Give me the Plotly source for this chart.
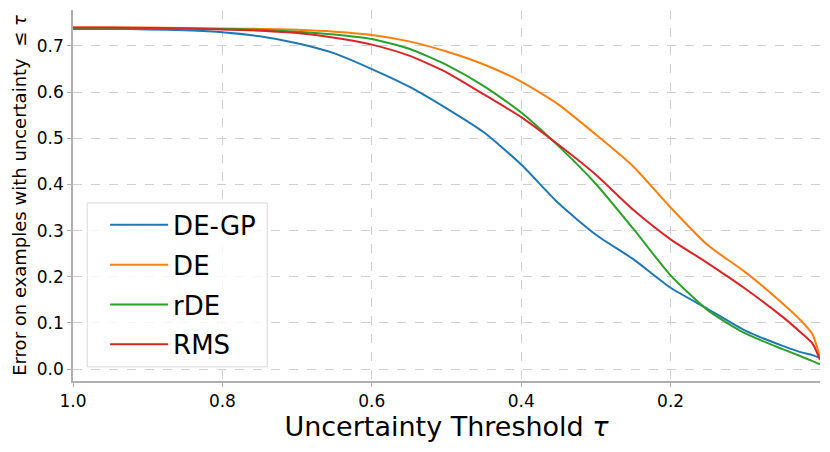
import plotly.graph_objects as go

tau = [1.00, 0.95, 0.90, 0.85, 0.80, 0.75, 0.70, 0.65, 0.60, 0.55, 0.50,
       0.45, 0.40, 0.35, 0.30, 0.25, 0.20, 0.15, 0.10, 0.05, 0.025, 0.01, 0.00]

de_gp = [0.737, 0.737, 0.736, 0.734, 0.730, 0.721, 0.706, 0.684, 0.650, 0.612, 0.565,
         0.513, 0.443, 0.359, 0.291, 0.238, 0.176, 0.130, 0.083, 0.050, 0.036, 0.030, 0.024]
de = [0.740, 0.740, 0.740, 0.739, 0.738, 0.737, 0.735, 0.731, 0.724, 0.710, 0.688,
      0.660, 0.623, 0.573, 0.508, 0.439, 0.350, 0.268, 0.210, 0.142, 0.104, 0.075, 0.026]
rde = [0.738, 0.738, 0.738, 0.738, 0.737, 0.735, 0.731, 0.725, 0.715, 0.694, 0.659,
       0.613, 0.556, 0.483, 0.401, 0.304, 0.203, 0.127, 0.077, 0.043, 0.027, 0.017, 0.010]
rms = [0.740, 0.740, 0.739, 0.738, 0.736, 0.733, 0.728, 0.718, 0.703, 0.679, 0.643,
       0.595, 0.546, 0.486, 0.421, 0.345, 0.281, 0.229, 0.174, 0.113, 0.078, 0.055, 0.020]

names = ["DE-GP", "DE", "rDE", "RMS"]
series = [de_gp, de, rde, rms]
colors = ["#1f77b4", "#ff7f0e", "#2ca02c", "#d62728"]

x_ticks = [1.0, 0.8, 0.6, 0.4, 0.2]
y_ticks = [0.0, 0.1, 0.2, 0.3, 0.4, 0.5, 0.6, 0.7]

fig = go.Figure()
for name, vals, col in zip(names, series, colors):
    fig.add_trace(go.Scatter(
        x=tau, y=vals, name=name, mode="lines", legendgroup=name,
        line=dict(color=col, width=2, shape="spline", smoothing=0.6),
    ))

# legend frame (matplotlib style box)
fig.add_shape(
    type="rect", xref="paper", yref="paper",
    x0=0.019, x1=0.26, y0=0.038, y1=0.48,
    line=dict(color="#d8d8d8", width=1), fillcolor="rgba(255,255,255,0.8)",
    layer="above",
)

font = "DejaVu Sans, sans-serif"
fig.update_layout(
    width=830, height=452,
    paper_bgcolor="white", plot_bgcolor="white",
    margin=dict(l=73, r=10, t=10, b=71, autoexpand=False),
    font=dict(family=font, color="black"),
    legend=dict(
        x=0.043, y=0.484, xanchor="left", yanchor="top",
        font=dict(size=26), bgcolor="rgba(0,0,0,0)",
        borderwidth=0, tracegroupgap=3, itemwidth=58,
    ),
    xaxis=dict(
        range=[1.0, 0.0], tickvals=x_ticks, ticktext=[f"{v:.1f}" for v in x_ticks],
        showline=True, linecolor="#b0b0b0", linewidth=1.5,
        ticks="outside", ticklen=4, tickcolor="#b0b0b0",
        showgrid=True, gridcolor="#d0d0d0", griddash="dash", gridwidth=1,
        zeroline=False, tickfont=dict(size=17), automargin=False,
        title=dict(text="Uncertainty Threshold <i>τ</i>", font=dict(size=27), standoff=0),
    ),
    yaxis=dict(
        range=[-0.026, 0.778], tickvals=y_ticks, ticktext=[f"{v:.1f}" for v in y_ticks],
        showline=True, linecolor="#b0b0b0", linewidth=1.5,
        ticks="outside", ticklen=4, tickcolor="#b0b0b0",
        showgrid=True, gridcolor="#d0d0d0", griddash="dash", gridwidth=1,
        zeroline=False, tickfont=dict(size=17), automargin=False,
        title=dict(text="Error on examples with uncertainty  ≤ <i>τ</i>", font=dict(size=18), standoff=6),
    ),
)

fig.write_html("out.html", config={"displayModeBar": False},
               post_script="document.body.style.margin='0';")
